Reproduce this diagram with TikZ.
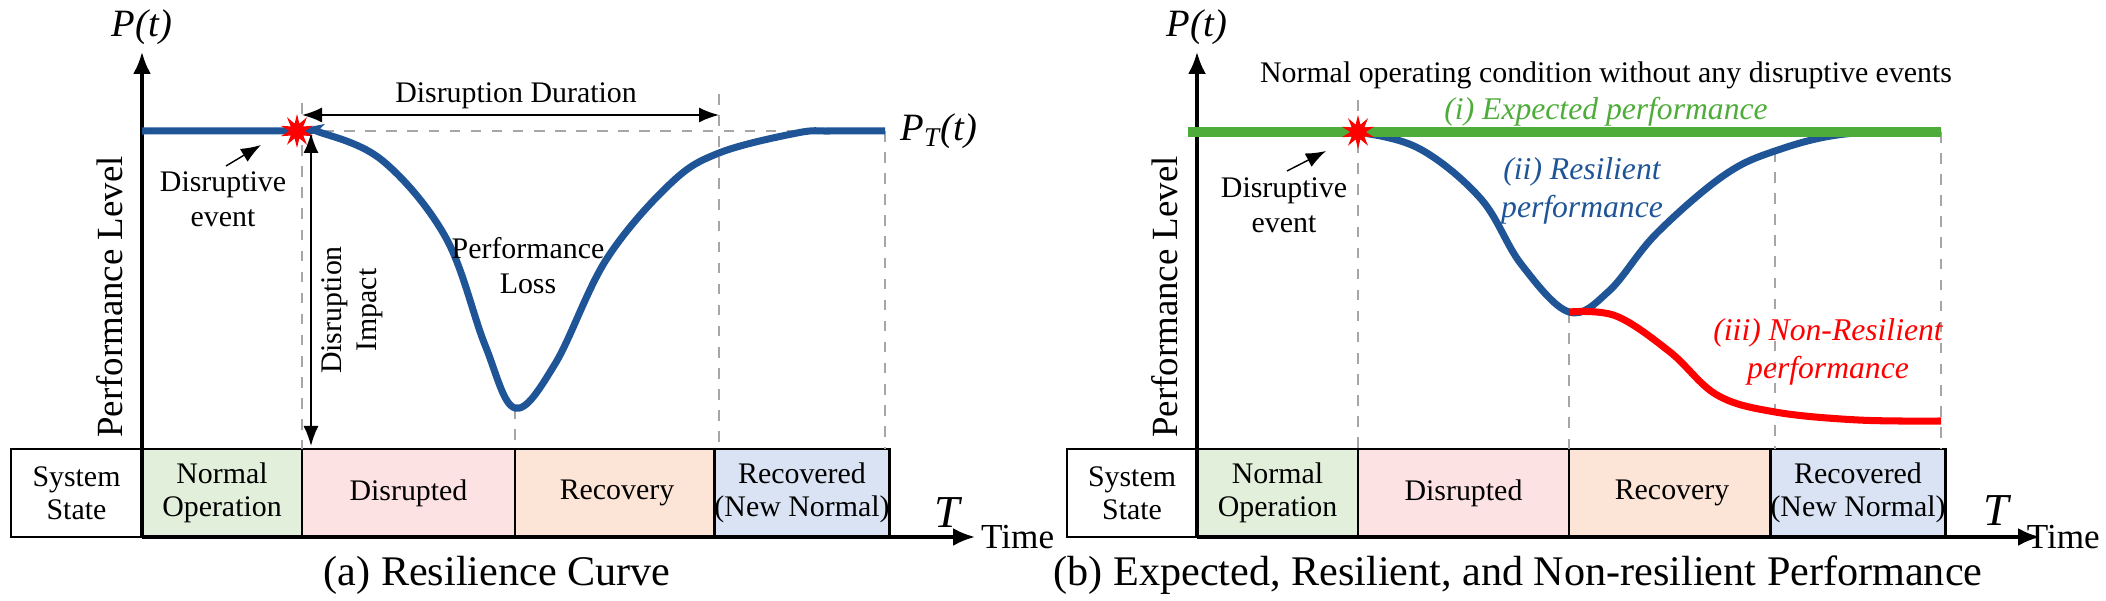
\documentclass[tikz,border=0pt]{standalone}
\usepackage{fontspec}
\setmainfont{LiberationSerif}[Extension=.ttf, UprightFont=*-Regular, ItalicFont=*-Italic, BoldFont=*-Bold]
\usetikzlibrary{shapes.geometric, arrows.meta, positioning}
\definecolor{curveblue}{HTML}{1F5597}
\definecolor{expgreen}{HTML}{4EAD3A}
\definecolor{normfill}{HTML}{E2EFDA}
\definecolor{disfill}{HTML}{FDE2E4}
\definecolor{recfill}{HTML}{FCE4D6}
\definecolor{newfill}{HTML}{DAE3F3}
\tikzset{
    state/.style={rectangle, draw=black, line width=0.8pt, minimum height=8.8mm, inner sep=0pt, align=center, font=\fontsize{8.5}{9.5}\selectfont},
    axis/.style={line width=0.9pt, -{Latex[length=2.2mm, width=1.8mm]}},
    guide/.style={gray!70, dashed, line width=0.5pt},
    dim/.style={line width=0.5pt, {Latex[length=2mm]}-{Latex[length=2mm]}},
    pointer/.style={line width=0.4pt, -{Latex[length=2mm]}},
    lbl/.style={font=\fontsize{8.5}{10}\selectfont, align=center},
    perf/.style={line width=2pt, smooth, tension=0.6},
    burst/.style={star, star points=10, star point ratio=2.2, fill=red, inner sep=0pt, minimum size=3.4mm}
}
\begin{document}
\begin{tikzpicture}[x=0.1mm, y=-0.1mm]
    \useasboundingbox (0,0) rectangle (2106,601);

    % ---------- (a) Resilience curve ----------
    \node (sysA) [state, minimum width=13.1mm] at (76.5,493) {System\\State};
    \node (normA) [state, fill=normfill, minimum width=16mm] at (222,493) {Normal\\Operation};
    \node (disA) [state, fill=disfill, minimum width=21.3mm] at (408.5,493) {Disrupted};
    \node (recA) [state, fill=recfill, minimum width=20.4mm] at (617,493) {Recovery};
    \node (newA) [state, fill=newfill, minimum width=16.6mm] at (802,493) {Recovered\\(New Normal)};

    \coordinate (originA) at (142,537);
    \coordinate (topA) at (142,52);
    \coordinate (endA) at (975,537);
    \draw [axis] (originA) -- (topA);
    \draw [axis] (originA) -- (endA);
    \node (PA) [font=\itshape\fontsize{11}{12}\selectfont] at (142,27) {P(t)};
    \node (TA) [font=\itshape\fontsize{13}{13}\selectfont] at (947,513) {T};
    \node (timeA) [font=\fontsize{10}{10}\selectfont, anchor=west, inner sep=1pt] at (977,537) {Time};
    \node (levelA) [rotate=90, font=\fontsize{10.5}{11}\selectfont] at (110,297) {Performance Level};

    % guides
    \draw [guide] (302,103) -- (302,449);
    \draw [guide] (515,408) -- (515,449);
    \draw [guide] (719,94) -- (719,449);
    \draw [guide] (885,131) -- (885,449);
    \draw [guide] (302,131) -- (885,131);

    % resilience curve
    \draw [curveblue, perf] plot coordinates {(142,131) (298,131) (319,132) (383,161) (446,238) (485,345) (515,408) (555,364) (606,260) (670,184) (719,153) (797,133) (830,131) (885,131)};
    \node (eventA) [burst] at (297,131) {};
    \node (ptA) [font=\itshape\fontsize{11}{12}\selectfont, anchor=west] at (888,131) {P\textsubscript{\itshape T}(t)};

    % annotations
    \coordinate (durL) at (302,115);
    \coordinate (durR) at (719,115);
    \draw [dim] (durL) -- (durR);
    \node (durA) [lbl] at (516,96) {Disruption Duration};
    \coordinate (impT) at (311,133);
    \coordinate (impB) at (311,446);
    \draw [dim] (impT) -- (impB);
    \node (impA) [lbl, rotate=90] at (352,310) {Disruption\\Impact};
    \node (lossA) [lbl] at (528,266) {Performance\\Loss};
    \node (disrA) [lbl] at (223,199) {Disruptive\\event};
    \coordinate (tailA) at (226,166);
    \draw [pointer] (tailA) -- (261,145);
    \node (capA) [font=\fontsize{12}{12}\selectfont] at (497,575) {(a) Resilience Curve};

    % ---------- (b) Expected, resilient, non-resilient ----------
    \node (sysB) [state, minimum width=13mm] at (1132,493) {System\\State};
    \node (normB) [state, fill=normfill, minimum width=16.1mm] at (1277.5,493) {Normal\\Operation};
    \node (disB) [state, fill=disfill, minimum width=21.1mm] at (1463.5,493) {Disrupted};
    \node (recB) [state, fill=recfill, minimum width=20.6mm] at (1672,493) {Recovery};
    \node (newB) [state, fill=newfill, minimum width=16.6mm] at (1858,493) {Recovered\\(New Normal)};

    \coordinate (originB) at (1197,537);
    \coordinate (topB) at (1197,52);
    \coordinate (endB) at (2040,537);
    \draw [axis] (originB) -- (topB);
    \draw [axis] (originB) -- (endB);
    \node (PB) [font=\itshape\fontsize{11}{12}\selectfont] at (1197,27) {P(t)};
    \node (TB) [font=\itshape\fontsize{13}{13}\selectfont] at (1996,511) {T};
    \node (timeB) [font=\fontsize{10}{10}\selectfont, anchor=east, inner sep=1pt] at (2104,537) {Time};
    \node (levelB) [rotate=90, font=\fontsize{10.5}{11}\selectfont] at (1165,297) {Performance Level};

    % guides
    \draw [guide] (1358,100) -- (1358,449);
    \draw [guide] (1569,312) -- (1569,449);
    \draw [guide] (1775,151) -- (1775,449);
    \draw [guide] (1941,132) -- (1941,449);

    % performance curves
    \draw [curveblue, perf] plot coordinates {(1330,132) (1358,132) (1420,149) (1481,199) (1521,264) (1569,312) (1609,291) (1656,234) (1723,176) (1775,151) (1845,134) (1941,132)};
    \draw [red, perf] plot coordinates {(1569,312) (1616,316) (1670,352) (1717,395) (1775,412) (1858,420) (1941,421)};
    \draw [expgreen, line width=2.6pt] (1188,132) -- (1941,132);
    \node (eventB) [burst] at (1358,132) {};

    \node (normtxt) [lbl] at (1606,75) {Normal operating condition without any disruptive events};
    \node (expB) [lbl, text=expgreen, font=\itshape\fontsize{9}{10}\selectfont] at (1606,112) {(i) Expected performance};
    \node (resB) [lbl, text=curveblue, font=\itshape\fontsize{9}{11}\selectfont] at (1582,191) {(ii) Resilient\\performance};
    \node (nonB) [lbl, text=red, font=\itshape\fontsize{9}{11}\selectfont] at (1828,352) {(iii) Non-Resilient\\performance};
    \node (disrB) [lbl] at (1284,205) {Disruptive\\event};
    \coordinate (tailB) at (1287,171);
    \draw [pointer] (tailB) -- (1326,151);
    \node (capB) [font=\fontsize{12}{12}\selectfont] at (1518,575) {(b) Expected, Resilient, and Non-resilient Performance};
\end{tikzpicture}
\end{document}
